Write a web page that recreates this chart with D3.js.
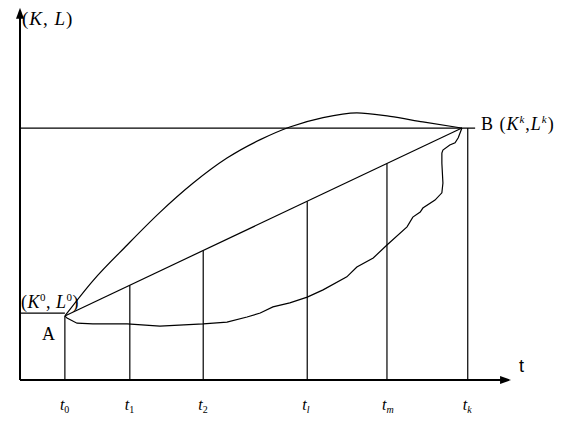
<!DOCTYPE html>
<html>
<head>
<meta charset="utf-8">
<script src="https://cdn.jsdelivr.net/npm/d3@7"></script>
<style>
    body { margin: 0; background: #fff; }
    .chart text { font-family: "Liberation Serif", "DejaVu Serif", serif; fill: #000; }
    .line { fill: none; stroke: #000; stroke-width: 1.2; }
    .axis { fill: none; stroke: #000; stroke-width: 2; }
</style>
</head>
<body>
<svg class="chart"></svg>
<script>
var width = 581;
var height = 424;

// tick positions on t axis (data units 0..100)
var tickNames = ["0", "1", "2", "l", "m", "k"];
var tickT = [8.5, 20.8, 34.7, 54.4, 69.5, 84.8];

var pointA = [8.5, 17.7];
var pointB = [83.7, 69.6];
var levelEnd = 86.2; // end of the horizontal line through B

// upper path (bowed above the straight line)
var upperT = [8.5, 13.8, 20.3, 26.5, 32.8, 39.2, 45.5, 51.1, 57.4, 63.8, 70.1, 76.3, 83.7];
var upperV = [17.7, 27.4, 37.3, 46.3, 54.4, 61.3, 66.4, 69.9, 72.5, 73.8, 72.8, 71.3, 69.6];

// lower path (sags then climbs with wiggles)
var lowerT = [8.5, 8.9, 10.8, 13.8, 20.3, 26.5, 34.7, 39.2, 43.0, 45.5, 47.9, 51.1, 54.4, 57.4, 61.9, 63.8,
    66.9, 69.5, 73.3, 74.4, 75.8, 76.3, 78.6, 79.9, 80.1, 79.9, 79.9, 80.1, 81.4, 82.4, 83.0, 83.7];
var lowerV = [17.7, 17.1, 15.7, 15.5, 15.5, 14.9, 15.5, 16.0, 17.4, 18.5, 20.2, 21.3, 22.9, 24.9, 28.5, 31.2,
    33.7, 37.3, 42.3, 45.0, 46.4, 47.5, 49.7, 51.7, 54.4, 59.9, 62.7, 63.5, 64.9, 65.5, 66.9, 69.6];

var x = d3.scaleLinear().domain([0, 100]).range([20, 548]);
var y = d3.scaleLinear().domain([0, 100]).range([380, 18]);

var chart = d3.select(".chart")
    .attr("width", width)
    .attr("height", height);

var g = chart.append("g");

// straight line A -> B
function lineAt(t) {
    return pointA[1] + (pointB[1] - pointA[1]) * (t - pointA[0]) / (pointB[0] - pointA[0]);
}

// horizontal level of B
g.append("line").attr("class", "line")
    .attr("x1", x(0)).attr("x2", x(levelEnd))
    .attr("y1", y(pointB[1])).attr("y2", y(pointB[1]));

// box left of A
g.append("line").attr("class", "line")
    .attr("x1", x(0)).attr("x2", x(pointA[0]))
    .attr("y1", y(pointA[1] + 0.8)).attr("y2", y(pointA[1] + 0.8));

// verticals at each tick
g.selectAll("line.vert")
    .data(tickT)
    .enter()
    .append("line")
    .attr("class", "line vert")
    .attr("x1", function(d) { return x(d); })
    .attr("x2", function(d) { return x(d); })
    .attr("y1", y(0))
    .attr("y2", function(d, i) {
        if (i == 0) return y(pointA[1]);
        if (i == tickT.length - 1) return y(pointB[1]);
        return y(lineAt(d));
    });

g.append("line").attr("class", "line")
    .attr("x1", x(pointA[0])).attr("y1", y(pointA[1]))
    .attr("x2", x(pointB[0])).attr("y2", y(pointB[1]));

var upperLine = d3.line()
    .x(function(d) { return x(d[0]); })
    .y(function(d) { return y(d[1]); })
    .curve(d3.curveMonotoneX);

var lowerLine = d3.line()
    .x(function(d) { return x(d[0]); })
    .y(function(d) { return y(d[1]); });

g.append("path").attr("class", "line")
    .attr("d", upperLine(d3.zip(upperT, upperV)));

g.append("path").attr("class", "line")
    .attr("d", lowerLine(d3.zip(lowerT, lowerV)));

// axes with arrows
var xEnd = 93;
var yEnd = 102.8;
g.append("line").attr("class", "axis")
    .attr("x1", x(0)).attr("y1", y(0)).attr("x2", x(xEnd) - 6).attr("y2", y(0));
g.append("line").attr("class", "axis")
    .attr("x1", x(0)).attr("y1", y(0)).attr("x2", x(0)).attr("y2", y(yEnd) + 6);
g.append("path")
    .attr("d", "M" + x(xEnd) + "," + y(0) + "l-11,-4l0,8z");
g.append("path")
    .attr("d", "M" + x(0) + "," + y(yEnd) + "l-4,11l8,0z");

// labels
g.append("text").attr("x", x(94.5)).attr("y", y(0) - 8)
    .style("font-size", "18px").style("font-family", "Liberation Sans, sans-serif").text("t");

var yLab = g.append("text").attr("x", 22).attr("y", 25)
    .style("font-size", "19px").style("letter-spacing", "1px");
yLab.append("tspan").text("(");
yLab.append("tspan").style("font-style", "italic").text("K");
yLab.append("tspan").text(", ");
yLab.append("tspan").style("font-style", "italic").text("L");
yLab.append("tspan").text(")");

var aLab = g.append("text").attr("x", 21).attr("y", y(pointA[1]) - 8)
    .style("font-size", "18px").style("letter-spacing", "0.5px");
aLab.append("tspan").text("(");
aLab.append("tspan").style("font-style", "italic").text("K");
aLab.append("tspan").attr("dy", -7).style("font-size", "11px").text("0");
aLab.append("tspan").attr("dy", 7).text(", ");
aLab.append("tspan").style("font-style", "italic").text("L");
aLab.append("tspan").attr("dy", -7).style("font-size", "11px").text("0");
aLab.append("tspan").attr("dy", 7).text(")");

g.append("text").attr("x", 42).attr("y", y(pointA[1]) + 24).style("font-size", "18px").text("A");

var bLab = g.append("text").attr("x", x(pointB[0]) + 19).attr("y", y(pointB[1]) + 2)
    .style("font-size", "18px").style("letter-spacing", "1px");
bLab.append("tspan").text("B  (");
bLab.append("tspan").style("font-style", "italic").text("K");
bLab.append("tspan").attr("dy", -7).style("font-size", "11px").style("font-style", "italic").text("k");
bLab.append("tspan").attr("dy", 7).text(",");
bLab.append("tspan").style("font-style", "italic").text("L");
bLab.append("tspan").attr("dy", -7).style("font-size", "11px").style("font-style", "italic").text("k");
bLab.append("tspan").attr("dy", 7).text(")");

var tl = g.selectAll("text.tick")
    .data(tickT)
    .enter()
    .append("text")
    .attr("class", "tick")
    .attr("x", function(d) { return x(d) - 5; })
    .attr("y", 410)
    .style("font-size", "16px");
tl.append("tspan").style("font-style", "italic").text("t");
tl.append("tspan").attr("dy", 3).style("font-size", "10px")
    .style("font-style", function(d, i) { return i > 2 ? "italic" : "normal"; })
    .text(function(d, i) { return tickNames[i]; });
</script>
</body>
</html>
